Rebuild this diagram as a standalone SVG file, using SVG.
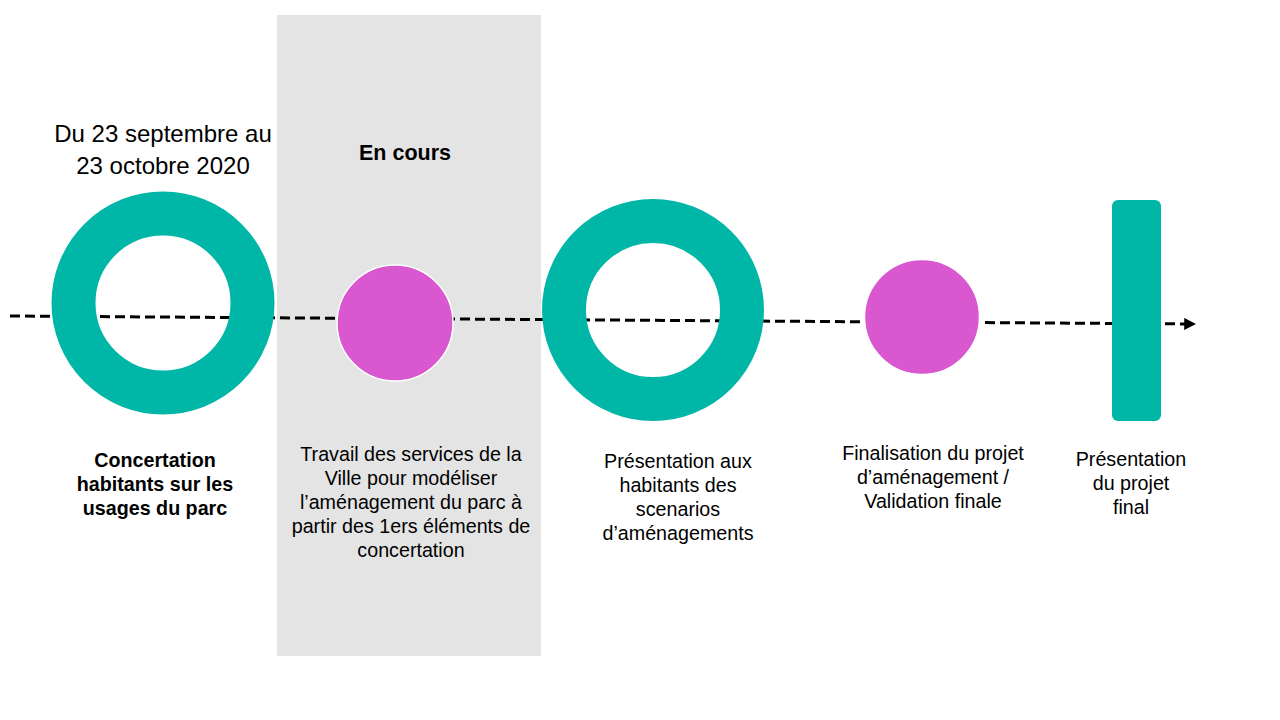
<svg xmlns="http://www.w3.org/2000/svg" width="1280" height="720" viewBox="0 0 1280 720">
<style>
.t{font-family:"Liberation Sans","Open Sans",sans-serif;font-size:19.7px;fill:#000;text-anchor:middle}
.b{font-weight:bold}
.ring{fill:none;stroke:#00b6a6;stroke-width:44}
.dot{fill:#d957cf;stroke:#fff;stroke-width:1.5}
</style>
<defs>
<marker id="ah" viewBox="0 0 10 10" refX="9" refY="5" markerWidth="4" markerHeight="4" orient="auto" markerUnits="strokeWidth">
<path d="M0,0 L10,5 L0,10 z" fill="#000"/>
</marker>
</defs>
<rect width="1280" height="720" fill="#fff"/>
<rect id="panel" x="277" y="15" width="264" height="641" fill="#e4e4e4"/>
<g id="connectors">
<line x1="10" y1="316" x2="1195" y2="324" stroke="#000" stroke-width="3" stroke-dasharray="10,5" marker-end="url(#ah)"/>
</g>
<g id="step1">
<circle class="ring" cx="163" cy="303" r="89.5"/>
<text class="t" x="163" y="142" style="font-size:24px">Du 23 septembre au</text>
<text class="t" x="163" y="174" style="font-size:24px">23 octobre 2020</text>
<text class="t b" x="155" y="467">Concertation</text>
<text class="t b" x="155" y="491">habitants sur les</text>
<text class="t b" x="155" y="515">usages du parc</text>
</g>
<g id="step2">
<circle class="dot" cx="395" cy="323" r="58"/>
<text class="t b" x="405" y="160" style="font-size:21.5px">En cours</text>
<text class="t" x="411" y="461">Travail des services de la</text>
<text class="t" x="411" y="485">Ville pour modéliser</text>
<text class="t" x="411" y="509">l’aménagement du parc à</text>
<text class="t" x="411" y="533">partir des 1ers éléments de</text>
<text class="t" x="411" y="557">concertation</text>
</g>
<g id="step3">
<circle class="ring" cx="653" cy="310" r="89"/>
<text class="t" x="678" y="468">Présentation aux</text>
<text class="t" x="678" y="492">habitants des</text>
<text class="t" x="678" y="516">scenarios</text>
<text class="t" x="678" y="540">d’aménagements</text>
</g>
<g id="step4">
<circle class="dot" cx="922" cy="317" r="57.5"/>
<text class="t" x="933" y="460">Finalisation du projet</text>
<text class="t" x="933" y="484">d’aménagement /</text>
<text class="t" x="933" y="508">Validation finale</text>
</g>
<g id="step5">
<rect x="1112" y="200" width="49" height="221" rx="6" fill="#00b6a6"/>
<text class="t" x="1131" y="466">Présentation</text>
<text class="t" x="1131" y="490">du projet</text>
<text class="t" x="1131" y="514">final</text>
</g>
</svg>
